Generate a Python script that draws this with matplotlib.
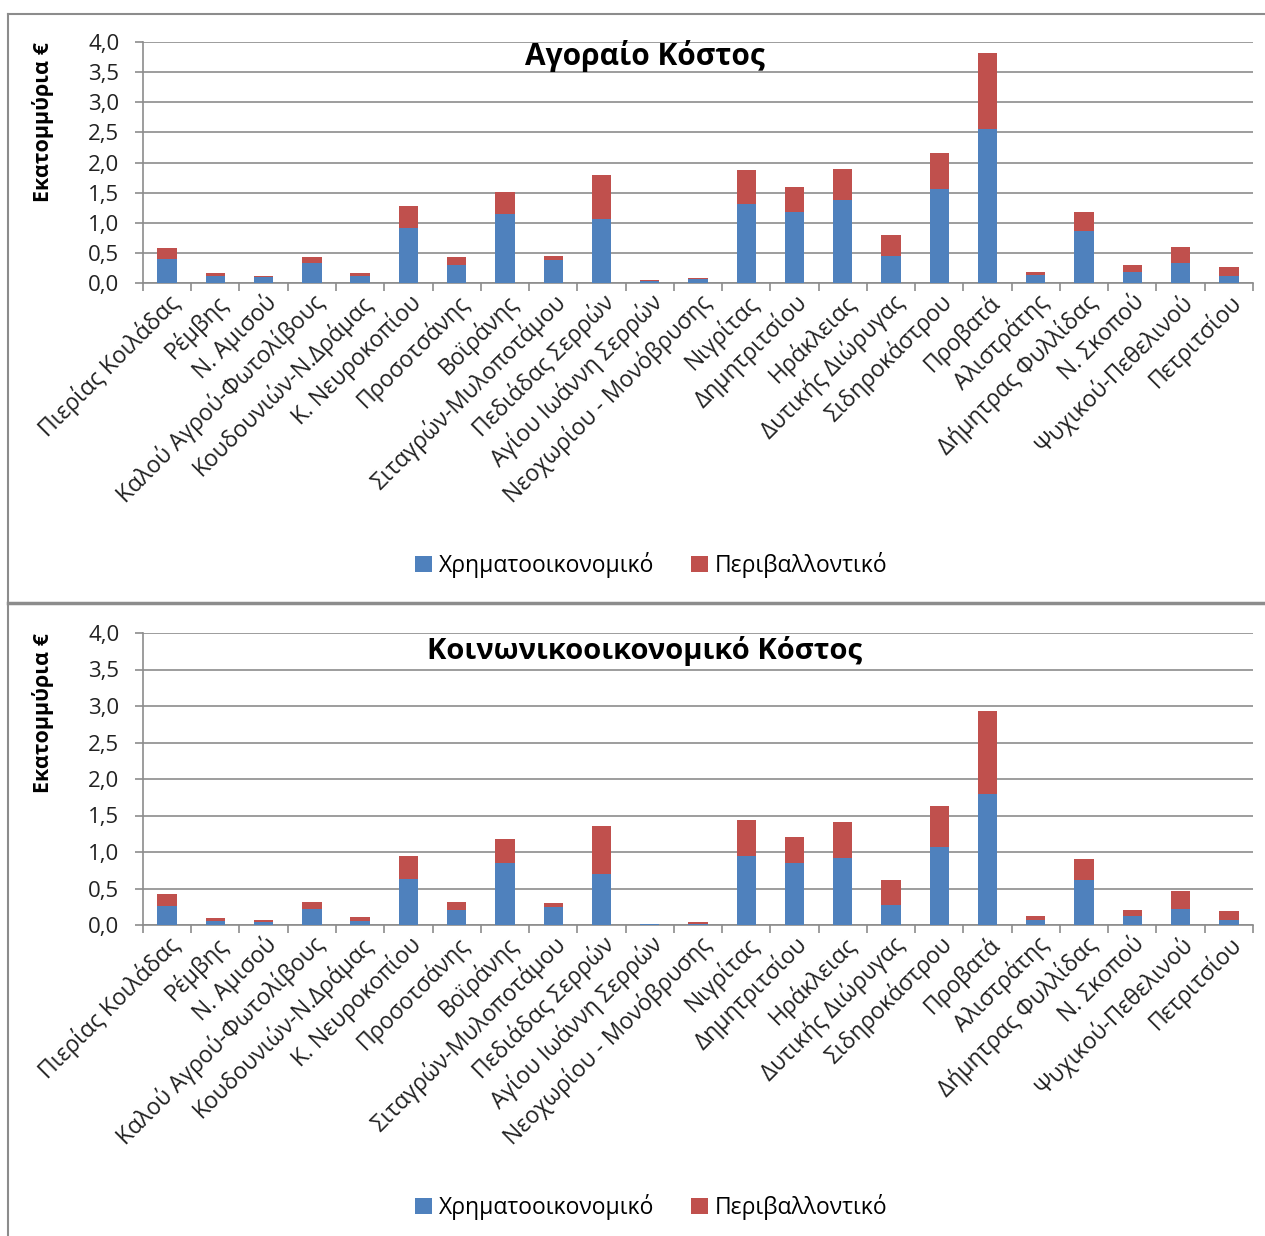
import matplotlib
matplotlib.use("Agg")
import matplotlib.pyplot as plt
import numpy as np
from matplotlib.lines import Line2D

plt.rcParams['font.family'] = ['Open Sans', 'DejaVu Sans']

# areas (x categories)
areas = ['Πιερίας Κοιλάδας', 'Ρέμβης', 'Ν. Αμισού', 'Καλού Αγρού-Φωτολίβους',
         'Κουδουνιών-Ν.Δράμας', 'Κ. Νευροκοπίου', 'Προσοτσάνης', 'Βοϊράνης',
         'Σιταγρών-Μυλοποτάμου', 'Πεδιάδας Σερρών', 'Αγίου Ιωάννη Σερρών',
         'Νεοχωρίου - Μονόβρυσης', 'Νιγρίτας', 'Δημητριτσίου', 'Ηράκλειας',
         'Δυτικής Διώρυγας', 'Σιδηροκάστρου', 'Προβατά', 'Αλιστράτης',
         'Δήμητρας Φυλλίδας', 'Ν. Σκοπού', 'Ψυχικού-Πεθελινού', 'Πετριτσίου']

# market cost (million euro)
market_fin = [0.40, 0.12, 0.095, 0.34, 0.115, 0.91, 0.30, 1.14, 0.39, 1.06, 0.03, 0.06,
              1.31, 1.18, 1.37, 0.45, 1.555, 2.56, 0.13, 0.86, 0.19, 0.34, 0.115]
market_total = [0.575, 0.16, 0.115, 0.43, 0.16, 1.28, 0.43, 1.51, 0.45, 1.79, 0.05, 0.08,
                1.87, 1.60, 1.89, 0.80, 2.16, 3.81, 0.18, 1.18, 0.30, 0.59, 0.26]

# socio-economic cost (million euro)
socio_fin = [0.26, 0.06, 0.04, 0.225, 0.055, 0.625, 0.21, 0.85, 0.25, 0.695, 0.01, 0.02,
             0.94, 0.85, 0.915, 0.275, 1.075, 1.80, 0.065, 0.61, 0.12, 0.225, 0.065]
socio_total = [0.42, 0.09, 0.07, 0.31, 0.105, 0.95, 0.31, 1.18, 0.295, 1.35, 0.02, 0.037,
               1.44, 1.21, 1.41, 0.61, 1.63, 2.93, 0.12, 0.90, 0.21, 0.465, 0.19]

series_names = ['Χρηματοοικονομικό', 'Περιβαλλοντικό']
titles = ['Αγοραίο Κόστος', 'Κοινωνικοοικονομικό Κόστος']

BLUE = '#4F81BD'
RED = '#C0504D'
GRID = '#8C8C8C'

fig = plt.figure(figsize=(12.65, 12.36), dpi=100)

# panel frames
fig.add_artist(Line2D([8/1265, 1], [1 - 14/1236] * 2, color='#8C8C8C', lw=1.5))
fig.add_artist(Line2D([8/1265] * 2, [0, 1 - 14/1236], color='#8C8C8C', lw=1.5))
fig.add_artist(Line2D([8/1265, 1], [1 - 603/1236] * 2, color='#8C8C8C', lw=2.5))

panels = [
    ([0.113, 1 - 283/1236, 0.8775, 241/1236], market_fin, market_total, 565, 21.5),
    ([0.113, 1 - 925/1236, 0.8775, 292/1236], socio_fin, socio_total, 1207, 21),
]

x = np.arange(len(areas))
for (rect, fin, total, leg_y, tsize), title in zip(panels, titles):
    env = np.array(total) - np.array(fin)
    ax = fig.add_axes(rect)
    b1 = ax.bar(x, fin, width=0.4, color=BLUE, edgecolor='none', zorder=3)
    b2 = ax.bar(x, env, bottom=fin, width=0.4, color=RED, edgecolor='none', zorder=3)

    ax.set_xlim(-0.5, len(areas) - 0.5)
    ax.set_ylim(0, 4.0)
    ax.set_yticks(np.arange(0, 4.01, 0.5))
    ax.set_yticklabels([f'{v:.1f}'.replace('.', ',') for v in np.arange(0, 4.01, 0.5)],
                       fontsize=16, color='#222222')
    ax.yaxis.grid(True, color=GRID, lw=1.2, zorder=0)
    ax.set_axisbelow(True)

    ax.set_xticks(x)
    ax.set_xticklabels(areas, rotation=45, ha='right', va='top',
                       rotation_mode='anchor', fontsize=16.5, color='#222222')
    ax.set_xticks(np.arange(-0.5, len(areas)), minor=True)
    ax.tick_params(axis='x', which='major', length=0, pad=5)
    ax.tick_params(axis='x', which='minor', length=6, color=GRID, width=1.2)
    ax.tick_params(axis='y', length=6, color=GRID, width=1.2, pad=11)

    for s in ['top', 'right']:
        ax.spines[s].set_visible(False)
    for s in ['left', 'bottom']:
        ax.spines[s].set_color(GRID)
        ax.spines[s].set_linewidth(1.2)

    ax.text(-0.09, 1.0, 'Εκατομμύρια €', transform=ax.transAxes, rotation=90,
            ha='center', va='top', fontsize=15.5, fontweight='bold')
    ax.text(0.452, 0.94, title, transform=ax.transAxes, ha='center', va='center',
            fontsize=tsize, fontweight='bold')

    fig.legend([b1, b2], series_names, loc='center', ncol=2,
               bbox_to_anchor=(651/1265, 1 - leg_y/1236), frameon=False,
               fontsize=16.5, handlelength=0.75, handleheight=0.75,
               handletextpad=0.3, columnspacing=1.6)

plt.savefig('out.png', dpi=100)
